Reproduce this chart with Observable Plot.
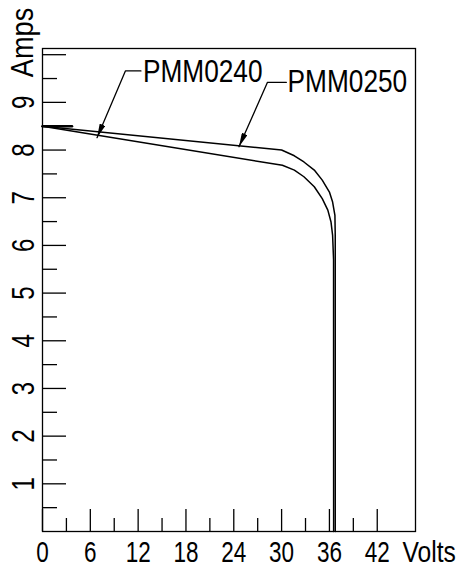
<!DOCTYPE html>
<html>
<head>
<meta charset="utf-8">
<script src="https://cdn.jsdelivr.net/npm/d3@7"></script>
<script src="https://cdn.jsdelivr.net/npm/@observablehq/plot@0.6"></script>
<style>
  html, body { margin: 0; padding: 0; background: #fff; }
  #chart svg { display: block; }
</style>
</head>
<body>
<div id="chart"></div>
<script>
// ---- data (volts, amps) ----
const pmm0250Volts = [0, 30.0, 31.6, 32.8, 34.1, 35.1, 36.0, 36.4, 36.69, 36.73, 36.73];
const pmm0250Amps  = [8.5, 8.0, 7.88, 7.75, 7.58, 7.37, 7.12, 6.91, 6.63, 6.2, 0];
const pmm0240Volts = [0, 30.1, 31.6, 32.8, 34.1, 35.1, 35.8, 36.2, 36.4, 36.52, 36.53];
const pmm0240Amps  = [8.5, 7.68, 7.58, 7.44, 7.23, 6.98, 6.74, 6.49, 6.21, 5.7, 0];
const plateauVolts = [0, 3.7];
const plateauAmps  = [8.5, 8.5];

const seriesNames = ["PMM0240", "PMM0250"];
const labelVolts  = [12.6, 30.75];
const labelAmps   = [9.65, 9.43];
// leader lines: [text end, elbow, arrow tip]
const leaderVolts = [[12.35, 10.4, 6.84], [30.6, 28.23, 24.65]];
const leaderAmps  = [[9.66, 9.66, 8.26], [9.42, 9.42, 8.07]];

const xMajor = [0, 6, 12, 18, 24, 30, 36, 42];
const xMinor = [3, 9, 15, 21, 27, 33, 39];
const xLabels = ["0", "6", "12", "18", "24", "30", "36", "42"];
const yMajor = [1, 2, 3, 4, 5, 6, 7, 8, 9, 10];
const yMinor = [0.5, 1.5, 2.5, 3.5, 4.5, 5.5, 6.5, 7.5, 8.5, 9.5];
const yLabels = [1, 2, 3, 4, 5, 6, 7, 8, 9];

// ---- tables built from the arrays ----
const curves = [
  ...pmm0240Volts.map((v, i) => ({series: "PMM0240", v, a: pmm0240Amps[i]})),
  ...pmm0250Volts.map((v, i) => ({series: "PMM0250", v, a: pmm0250Amps[i]}))
];
const plateau = plateauVolts.map((v, i) => ({v, a: plateauAmps[i]}));
const leaders = seriesNames.flatMap((s, k) =>
  leaderVolts[k].map((v, i) => ({series: s, v, a: leaderAmps[k][i]})));
const labels = seriesNames.map((s, k) => ({text: s, v: labelVolts[k], a: labelAmps[k]}));

const FONT = "'Liberation Sans', Arial, Helvetica, sans-serif";

const chart = Plot.plot({
  width: 461,
  height: 568,
  marginLeft: 42,
  marginRight: 46,
  marginTop: 48,
  marginBottom: 37,
  style: {fontFamily: FONT, background: "#fff", color: "#000"},
  x: {domain: [0, 46.8]},
  y: {domain: [0, 10.13]},
  marks: [
    // inward ticks
    Plot.axisX({ticks: xMajor, tickSize: -22, tickFormat: () => "", label: null, strokeWidth: 1.3}),
    Plot.axisX({ticks: xMinor, tickSize: -13, tickFormat: () => "", label: null, strokeWidth: 1.3}),
    Plot.axisY({ticks: yMajor, tickSize: -24, tickFormat: () => "", label: null, strokeWidth: 1.3}),
    Plot.axisY({ticks: yMinor, tickSize: -15, tickFormat: () => "", label: null, strokeWidth: 1.3}),
    // tick labels
    Plot.text(xLabels, {x: (d) => +d, text: (d) => d, frameAnchor: "bottom", dy: 9,
      lineAnchor: "top", textAnchor: "middle", fontSize: 30, fill: "black"}),
    Plot.text(["Volts"], {frameAnchor: "bottom-right", dx: -13, dy: 9,
      lineAnchor: "top", textAnchor: "start", fontSize: 30, fill: "black"}),
    Plot.text(yLabels, {y: (d) => d, text: (d) => String(d), frameAnchor: "left", dx: -9,
      rotate: -90, lineAnchor: "bottom", textAnchor: "middle", fontSize: 32, fill: "black"}),
    Plot.text(["Amps"], {frameAnchor: "top-left", dx: -10, dy: -6,
      rotate: -90, lineAnchor: "bottom", textAnchor: "middle", fontSize: 32, fill: "black"}),
    Plot.frame({stroke: "black", strokeWidth: 1.3}),
    // curves
    Plot.line(plateau, {x: "v", y: "a", stroke: "black", strokeWidth: 2.6}),
    Plot.line(curves, {x: "v", y: "a", z: "series", stroke: "black", strokeWidth: 1.5}),
    // annotations
    Plot.line(leaders, {x: "v", y: "a", z: "series", stroke: "black", strokeWidth: 1.3,
      markerEnd: "arrow"}),
    Plot.text(labels, {x: "v", y: "a", text: "text", textAnchor: "start",
      lineAnchor: "middle", fontSize: 32, fill: "black"})
  ]
});

document.getElementById("chart").appendChild(chart);

// filled, narrow arrowheads on the leader lines
chart.querySelectorAll("marker").forEach((m) => {
  m.setAttribute("viewBox", "0 0 14 6");
  m.setAttribute("refX", "14");
  m.setAttribute("refY", "3");
  m.setAttribute("markerWidth", "14");
  m.setAttribute("markerHeight", "6");
  m.setAttribute("markerUnits", "userSpaceOnUse");
  m.setAttribute("orient", "auto");
  m.setAttribute("fill", "black");
  m.setAttribute("stroke", "none");
  m.querySelectorAll("path").forEach((p) => {
    p.setAttribute("d", "M0,0L14,3L0,6Z");
    p.setAttribute("fill", "black");
    p.setAttribute("stroke", "none");
  });
});

// condense the lettering like the reference's narrow drafting font
chart.querySelectorAll("text").forEach((t) => {
  const s = t.textContent;
  if (!s) return;
  let k = 0.75;
  if (s.startsWith("PMM")) k = 0.82;
  else if (s === "Volts") k = 0.82;
  else if (s === "Amps") k = 0.85;
  const len = t.getComputedTextLength();
  if (len > 0) {
    t.setAttribute("textLength", (len * k).toFixed(2));
    t.setAttribute("lengthAdjust", "spacingAndGlyphs");
  }
});
</script>
</body>
</html>
